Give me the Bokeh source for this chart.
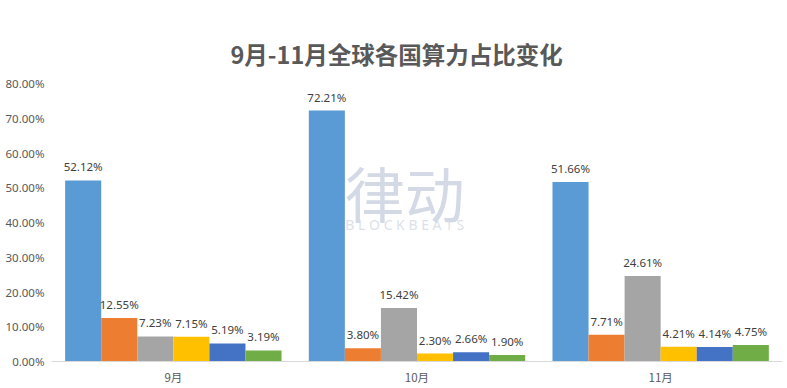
from bokeh.plotting import figure
from bokeh.models import ColumnDataSource, FactorRange, Range1d, FixedTicker, PrintfTickFormatter, Label
from bokeh.transform import dodge
from bokeh.core.properties import value
from bokeh.embed import file_html
from bokeh.resources import INLINE

months = ["9月", "10月", "11月"]
s1 = [52.12, 72.21, 51.66]
s2 = [12.55, 3.80, 7.71]
s3 = [7.23, 15.42, 24.61]
s4 = [7.15, 2.30, 4.21]
s5 = [5.19, 2.66, 4.14]
s6 = [3.19, 1.90, 4.75]
series = [s1, s2, s3, s4, s5, s6]
colors = ["#5B9BD5", "#ED7D31", "#A5A5A5", "#FFC000", "#4472C4", "#70AD47"]
y_ticks = [0, 10, 20, 30, 40, 50, 60, 70, 80]
title_text = "9月-11月全球各国算力占比变化"

p = figure(frame_width=731, frame_height=278,
           x_range=FactorRange(factors=months, start=0, end=3),
           y_range=Range1d(0, 80), output_backend="svg", toolbar_location=None,
           min_border_left=51, min_border_right=5, min_border_top=83, min_border_bottom=0)
p.title.text = title_text
p.title.align = "left"
p.title.offset = 179
p.title.standoff = 26
p.title.text_font = "Noto Sans CJK SC"
p.title.text_font_size = "23.5px"
p.title.text_font_style = "bold"
p.title.text_color = "#595959"
p.outline_line_color = None
p.xgrid.grid_line_color = None
p.ygrid.grid_line_color = None

p.yaxis.ticker = FixedTicker(ticks=y_ticks)
p.yaxis.formatter = PrintfTickFormatter(format="%.2f%%")
p.yaxis.axis_line_color = None
p.yaxis.major_tick_line_color = None
p.yaxis.major_tick_out = 0
p.yaxis.major_tick_in = 0
p.yaxis.minor_tick_line_color = None
p.yaxis.minor_tick_out = 0
p.yaxis.major_label_text_font = "Noto Sans"
p.yaxis.major_label_text_font_size = "11.5px"
p.yaxis.major_label_text_color = "#595959"
p.yaxis.major_label_standoff = 7

p.xaxis.axis_line_color = "#D9D9D9"
p.xaxis.major_tick_line_color = None
p.xaxis.major_tick_out = 0
p.xaxis.major_tick_in = 0
p.xaxis.minor_tick_line_color = None
p.xaxis.minor_tick_out = 0
p.xaxis.major_label_text_font = "Noto Sans CJK SC"
p.xaxis.major_label_text_font_size = "11.5px"
p.xaxis.major_label_text_color = "#595959"
p.xaxis.major_label_standoff = 7

# watermark in the middle of the chart
wm1 = Label(x=1.45, y=49, text="律动", text_font="Noto Sans CJK SC", text_font_size="60px",
            text_color="#C5CCDD", text_alpha=0.75, text_align="center", text_baseline="middle",
            level="underlay")
wm2 = Label(x=1.45, y=39.5, text="B L O C K B E A T S", text_font="Noto Sans", text_font_size="14px",
            text_color="#D3D8E4", text_alpha=0.8, text_align="center", text_baseline="middle",
            level="underlay")
p.add_layout(wm1)
p.add_layout(wm2)

w = 0.148
for i, (vals, c) in enumerate(zip(series, colors)):
    src = ColumnDataSource(dict(month=months, v=vals, lab=["%.2f%%" % v for v in vals]))
    off = (i - 2.5) * w
    p.vbar(x=dodge("month", off, range=p.x_range), top="v", width=w, source=src,
           fill_color=c, line_color=None)
    p.text(x=dodge("month", off, range=p.x_range), y="v", text="lab", source=src,
           text_align="center", text_baseline="bottom", y_offset=-6,
           text_font=value("Noto Sans"), text_font_size="11.5px", text_color="#404040")

open("out.html", "w").write(file_html(p, INLINE))
